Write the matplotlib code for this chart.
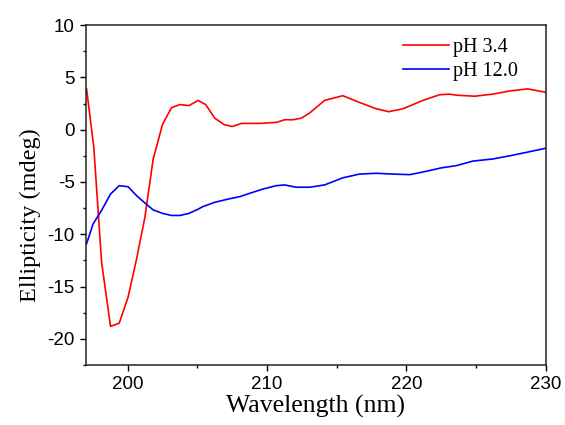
import matplotlib
matplotlib.use("Agg")
import matplotlib.pyplot as plt
from matplotlib.ticker import MultipleLocator

plt.rcParams["axes.unicode_minus"] = False

# CD spectra
wl_ph34 = [197.05, 197.57, 198.13, 198.77, 199.39, 200.03, 200.63, 201.23, 201.83,
           202.5, 203.14, 203.74, 204.4, 205.05, 205.6, 206.25, 206.9, 207.49, 208.16,
           209.47, 210.67, 211.27, 211.86, 212.46, 213.06, 214.13, 215.44, 216.64,
           217.84, 218.72, 219.75, 221.18, 222.38, 223.1, 223.57, 224.89, 226.2,
           227.4, 228.7, 229.9, 230.0]
ell_ph34 = [3.9, -1.7, -12.7, -18.8, -18.5, -16.0, -12.4, -8.4, -2.8,
            0.5, 2.1, 2.4, 2.3, 2.8, 2.4, 1.1, 0.5, 0.3, 0.6,
            0.6, 0.7, 0.95, 0.95, 1.1, 1.6, 2.8, 3.25, 2.6,
            2.0, 1.72, 2.0, 2.8, 3.34, 3.4, 3.3, 3.2, 3.4,
            3.7, 3.9, 3.6, 3.55]

wl_ph120 = [197.05, 197.52, 198.13, 198.77, 199.39, 200.03, 200.63, 201.23, 201.83,
            202.5, 203.14, 203.74, 204.4, 205.05, 205.4, 206.25, 207.32, 208.04,
            208.76, 209.71, 210.67, 211.27, 212.1, 213.06, 214.13, 215.44, 216.64,
            217.84, 219.03, 220.23, 221.42, 222.5, 223.57, 224.77, 226.2, 227.4,
            228.6, 229.9, 230.0]
ell_ph120 = [-10.9, -9.0, -7.7, -6.15, -5.35, -5.45, -6.3, -7.0, -7.67,
             -8.0, -8.2, -8.2, -8.0, -7.6, -7.35, -6.94, -6.6, -6.4,
             -6.08, -5.67, -5.35, -5.28, -5.5, -5.5, -5.28, -4.6, -4.24,
             -4.17, -4.24, -4.3, -3.98, -3.65, -3.44, -3.0, -2.8, -2.5,
             -2.17, -1.8, -1.78]

fig = plt.figure(figsize=(5.65, 4.25), dpi=100)
ax = fig.add_axes([0.152, 0.141, 0.814, 0.8])

ax.plot(wl_ph34, ell_ph34, color="#ff0000", lw=1.2, label="pH 3.4")
ax.plot(wl_ph120, ell_ph120, color="#0000ff", lw=1.2, label="pH 12.0")

ax.set_xlim(197, 230)
ax.set_ylim(-22.5, 10)
ax.set_xticks([200, 210, 220, 230])
ax.set_yticks([-20, -15, -10, -5, 0, 5, 10])
ax.xaxis.set_minor_locator(MultipleLocator(5))
ax.yaxis.set_minor_locator(MultipleLocator(2.5))
ax.tick_params(which="major", direction="out", length=4.5, width=1.0,
               labelsize=13.5, top=False, right=False)
ax.tick_params(which="minor", direction="out", length=2.5, width=1.0,
               top=False, right=False)
for lab in ax.get_xticklabels() + ax.get_yticklabels():
    lab.set_fontfamily("Liberation Sans")
for sp in ax.spines.values():
    sp.set_linewidth(1.1)
    sp.set_color("#222222")

ax.set_xlabel("Wavelength (nm)", fontfamily="Liberation Serif", fontsize=18.5, labelpad=1)
ax.set_ylabel("Ellipticity (mdeg)", fontfamily="Liberation Serif", fontsize=17.5)
ax.yaxis.set_label_coords(-0.098, 0.44)

ax.legend(loc="upper left", bbox_to_anchor=(0.672, 0.985), borderaxespad=0,
          frameon=False, handlelength=2.3, handletextpad=0.2, labelspacing=0.25,
          prop={"family": "Liberation Serif", "size": 14.5})

fig.savefig("out.png", dpi=100)
